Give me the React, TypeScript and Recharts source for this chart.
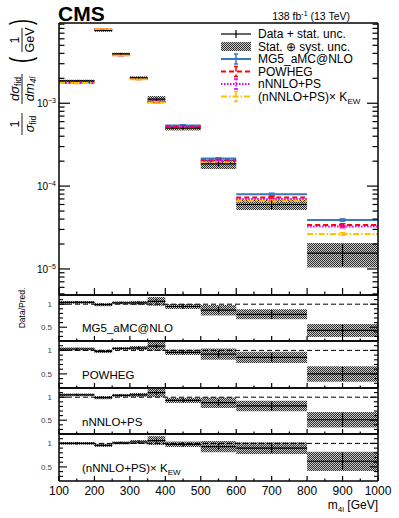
import React from 'react';
import {
  ComposedChart, Line, Scatter, ErrorBar, XAxis, YAxis, ReferenceArea, ReferenceLine,
} from 'recharts';

const FONT = '"Liberation Sans", Arial, Helvetica, sans-serif';

// m4l bins [GeV]
const binLo = [100, 200, 250, 300, 350, 400, 500, 600, 800];
const binHi = [200, 250, 300, 350, 400, 500, 600, 800, 1000];

// normalised cross sections [1/GeV]
const dataXs = [1.86e-3, 7.55e-3, 3.95e-3, 2.03e-3, 1.12e-3, 5.0e-4, 1.85e-4, 6.0e-5, 1.55e-5];
const statRel = [0.025, 0.02, 0.025, 0.03, 0.04, 0.05, 0.08, 0.12, 0.3];
const totRel = [0.03, 0.035, 0.03, 0.04, 0.09, 0.06, 0.13, 0.14, 0.33];

const mg5 = [1.78e-3, 7.7e-3, 3.85e-3, 2.0e-3, 1.05e-3, 5.4e-4, 2.15e-4, 8.0e-5, 3.9e-5];
const powheg = [1.77e-3, 7.75e-3, 3.83e-3, 1.97e-3, 1.04e-3, 5.25e-4, 2.05e-4, 7.3e-5, 3.4e-5];
const nnnlo = [1.76e-3, 7.8e-3, 3.8e-3, 1.96e-3, 1.03e-3, 5.15e-4, 2.0e-4, 7.0e-5, 3.25e-5];
const nnnloKew = [1.75e-3, 7.8e-3, 3.8e-3, 1.95e-3, 1.02e-3, 5.0e-4, 1.93e-4, 6.6e-5, 2.65e-5];
const predUnc = [0.015, 0.015, 0.015, 0.015, 0.02, 0.02, 0.025, 0.03, 0.035];

// Data / prediction
const ratioMg5 = [1.04, 0.99, 1.03, 1.03, 1.06, 0.95, 0.87, 0.78, 0.43];
const ratioPowheg = [1.03, 0.98, 1.04, 1.05, 1.09, 0.96, 0.92, 0.85, 0.5];
const ratioNnnlo = [1.05, 0.99, 1.04, 1.05, 1.1, 0.93, 0.88, 0.81, 0.51];
const ratioKew = [1.0, 0.96, 1.01, 1.03, 1.06, 0.98, 0.93, 0.9, 0.62];

const xTicks = [100, 150, 200, 250, 300, 350, 400, 450, 500, 550, 600, 650, 700, 750, 800, 850, 900, 950, 1000];
const ratioTicks = [0.3, 0.4, 0.5, 0.6, 0.7, 0.8, 0.9, 1.0, 1.1];
const Y_MIN = 4.85e-6;
const Y_MAX = 9.3e-3;
const mainYTicks: number[] = [];
[1e-6, 1e-5, 1e-4, 1e-3].forEach((d) => {
  [1, 2, 3, 4, 5, 6, 7, 8, 9].forEach((m) => {
    const v = m * d;
    if (v >= Y_MIN && v <= Y_MAX) mainYTicks.push(v);
  });
});

const series = [
  { name: 'MG5_aMC@NLO', vals: mg5, color: '#3a78c0', dash: undefined as string | undefined },
  { name: 'POWHEG', vals: powheg, color: '#ff0000', dash: '5 3' },
  { name: 'nNNLO+PS', vals: nnnlo, color: '#e000f0', dash: '1.5 1.5' },
  { name: 'KEW', vals: nnnloKew, color: '#ffbf00', dash: '6 2 1.5 2' },
];

const W = 399;
const PLOT_L = 59;
const PLOT_R = 20;

// turn bin values into separated horizontal segments
const segments = (vals: number[]) => {
  const out: { x: number; y: number | null }[] = [];
  vals.forEach((v, i) => {
    out.push({ x: binLo[i], y: v }, { x: binHi[i], y: v }, { x: binHi[i], y: null });
  });
  return out;
};
const centers = (vals: number[], rel: number[]) =>
  vals.map((v, i) => ({ x: (binLo[i] + binHi[i]) / 2, y: v, err: [v * rel[i], v * rel[i]] }));

const isMajorLog = (v: number) => Math.abs(Math.log10(v) - Math.round(Math.log10(v))) < 1e-6;

const xTick = (dir: 1 | -1, big: number, small: number, labels: boolean) => (p: any) => {
  const v = p.payload.value;
  const x = Number(p.x);
  const y = Number(p.y);
  const major = v % 100 === 0;
  const len = major ? big : small;
  return (
    <g>
      <line x1={x} x2={x} y1={y} y2={y + dir * len} stroke="#000" strokeWidth={1.2} />
      {labels && major && (
        <text x={x} y={y + 14} textAnchor="middle" fontSize={12} fontFamily={FONT} fill="#000">{v}</text>
      )}
    </g>
  );
};

const logYTick = (dir: 1 | -1, labels: boolean) => (p: any) => {
  const v = p.payload.value;
  const x = Number(p.x);
  const y = Number(p.y);
  const major = isMajorLog(v);
  const len = major ? 11 : 5.5;
  return (
    <g>
      <line x1={x} x2={x + dir * len} y1={y} y2={y} stroke="#000" strokeWidth={1.2} />
      {labels && major && (
        <text x={x - 3} y={y + 4} textAnchor="end" fontSize={10} fontFamily={FONT} fill="#000">
          <tspan>10</tspan>
          <tspan dy={-4} fontSize={7}>{'\u2212' + Math.abs(Math.round(Math.log10(v)))}</tspan>
        </text>
      )}
    </g>
  );
};

const ratioYTick = (dir: 1 | -1, labels: boolean) => (p: any) => {
  const v = p.payload.value;
  const x = Number(p.x);
  const y = Number(p.y);
  const major = Math.abs(v - 0.5) < 1e-6 || Math.abs(v - 1) < 1e-6;
  const len = major ? 8 : 4;
  return (
    <g>
      <line x1={x} x2={x + dir * len} y1={y} y2={y} stroke="#000" strokeWidth={1.1} />
      {labels && major && (
        <text x={x - 7} y={y + 3} textAnchor="end" fontSize={8} fontFamily={FONT} fill="#444">
          {v === 1 ? '1' : '0.5'}
        </text>
      )}
    </g>
  );
};

const noShape = () => <g />;
const frame = { stroke: '#000', strokeWidth: 1.5 };

function MainPanel() {
  return (
    <ComposedChart width={W} height={296} margin={{ top: 22, right: PLOT_R, bottom: 0, left: 0 }}>
      <XAxis type="number" dataKey="x" domain={[100, 1000]} allowDataOverflow ticks={xTicks} interval={0}
        height={1} tickSize={0} tickMargin={0} stroke="#000" tick={xTick(-1, 7, 3.5, false)} axisLine={frame} />
      <XAxis xAxisId="top" orientation="top" type="number" domain={[100, 1000]} allowDataOverflow ticks={xTicks}
        interval={0} height={1} tickSize={0} tickMargin={0} stroke="#000" tick={xTick(1, 7, 3.5, false)} axisLine={frame} />
      <YAxis type="number" scale="log" domain={[Y_MIN, Y_MAX]} allowDataOverflow ticks={mainYTicks} interval={0}
        width={PLOT_L} tickSize={0} tickMargin={0} stroke="#000" tick={logYTick(1, true)} axisLine={frame} />
      <YAxis yAxisId="right" orientation="right" type="number" scale="log" domain={[Y_MIN, Y_MAX]} allowDataOverflow
        ticks={mainYTicks} interval={0} width={1} tickSize={0} tickMargin={0} stroke="#000"
        tick={logYTick(-1, false)} axisLine={frame} />

      {dataXs.map((v, i) => (
        <ReferenceArea key={'box' + i} x1={binLo[i]} x2={binHi[i]} y1={v * (1 - totRel[i])} y2={v * (1 + totRel[i])}
          fill="url(#statsyst)" fillOpacity={1} stroke="none" />
      ))}

      {series.map((s) => (
        <Line key={s.name} data={segments(s.vals)} dataKey="y" stroke={s.color} strokeWidth={2}
          strokeDasharray={s.dash} dot={false} activeDot={false} isAnimationActive={false} connectNulls={false} />
      ))}
      {series.map((s) => (
        <Scatter key={s.name + 'err'} data={centers(s.vals, predUnc)} dataKey="y" shape={noShape} isAnimationActive={false}>
          <ErrorBar dataKey="err" direction="y" width={3} stroke={s.color} strokeWidth={1.3} isAnimationActive={false} />
        </Scatter>
      ))}

      <Line data={segments(dataXs)} dataKey="y" stroke="#000" strokeWidth={1.2} dot={false} activeDot={false}
        isAnimationActive={false} connectNulls={false} />
      <Scatter data={centers(dataXs, statRel)} dataKey="y" shape={noShape} isAnimationActive={false}>
        <ErrorBar dataKey="err" direction="y" width={0} stroke="#000" strokeWidth={1.2} isAnimationActive={false} />
      </Scatter>
    </ComposedChart>
  );
}

function RatioPanel({ ratio, height, bottom, labels }: { ratio: number[]; height: number; bottom: number; labels: boolean }) {
  return (
    <ComposedChart width={W} height={height + bottom + 2} margin={{ top: 0, right: PLOT_R, bottom, left: 0 }}>
      <XAxis type="number" dataKey="x" domain={[100, 1000]} allowDataOverflow ticks={xTicks} interval={0}
        height={1} tickSize={0} tickMargin={0} stroke="#000" tick={xTick(-1, 5, 2.5, labels)} axisLine={frame} />
      <XAxis xAxisId="top" orientation="top" type="number" domain={[100, 1000]} allowDataOverflow ticks={xTicks}
        interval={0} height={1} tickSize={0} tickMargin={0} stroke="#000" tick={xTick(1, 3, 1.5, false)} axisLine={frame} />
      <YAxis type="number" domain={[0.2, 1.2]} allowDataOverflow ticks={ratioTicks} interval={0}
        width={PLOT_L} tickSize={0} tickMargin={0} stroke="#000" tick={ratioYTick(1, true)} axisLine={frame} />
      <YAxis yAxisId="right" orientation="right" type="number" domain={[0.2, 1.2]} allowDataOverflow
        ticks={ratioTicks} interval={0} width={1} tickSize={0} tickMargin={0} stroke="#000"
        tick={ratioYTick(-1, false)} axisLine={frame} />

      <ReferenceLine y={1} stroke="#000" strokeWidth={1} strokeDasharray="5 3" />
      {ratio.map((r, i) => (
        <ReferenceArea key={'rbox' + i} x1={binLo[i]} x2={binHi[i]} y1={r * (1 - totRel[i])} y2={r * (1 + totRel[i])}
          fill="url(#statsyst)" fillOpacity={1} stroke="none" />
      ))}
      <Line data={segments(ratio)} dataKey="y" stroke="#000" strokeWidth={1.2} dot={false} activeDot={false}
        isAnimationActive={false} connectNulls={false} />
      <Scatter data={centers(ratio, statRel)} dataKey="y" shape={noShape} isAnimationActive={false}>
        <ErrorBar dataKey="err" direction="y" width={0} stroke="#000" strokeWidth={1.2} isAnimationActive={false} />
      </Scatter>
    </ComposedChart>
  );
}

const legendRows = [34, 46.5, 59, 71.5, 84, 96.5];

function Overlay() {
  const t = { fontFamily: FONT, fill: '#000' };
  const lx1 = 221;
  const lx2 = 251;
  const lc = 236;
  return (
    <svg width={W} height={518} style={{ position: 'absolute', left: 0, top: 0, pointerEvents: 'none' }}>
      <text x={58} y={21} fontSize={21} fontWeight="bold" {...t}>CMS</text>
      <text x={350} y={20} fontSize={10.5} textAnchor="end" {...t}>
        <tspan>138 fb</tspan><tspan dy={-4} fontSize={7}>-1</tspan><tspan dy={4}> (13 TeV)</tspan>
      </text>

      {/* legend */}
      <line x1={lx1} x2={lx2} y1={legendRows[0]} y2={legendRows[0]} stroke="#000" strokeWidth={1.2} />
      <line x1={lc} x2={lc} y1={legendRows[0] - 4} y2={legendRows[0] + 4} stroke="#000" strokeWidth={1.2} />
      <rect x={lx1} y={legendRows[1] - 4.5} width={lx2 - lx1} height={9} fill="url(#statsyst)" />
      {series.map((s, k) => {
        const y = legendRows[k + 2];
        return (
          <g key={s.name}>
            <line x1={lx1} x2={lx2} y1={y} y2={y} stroke={s.color} strokeWidth={2} strokeDasharray={s.dash} />
            <line x1={lc} x2={lc} y1={y - 5} y2={y + 5} stroke={s.color} strokeWidth={1.5} strokeDasharray={s.dash} />
            <line x1={lc - 2} x2={lc + 2} y1={y - 5} y2={y - 5} stroke={s.color} strokeWidth={1.5} />
            <line x1={lc - 2} x2={lc + 2} y1={y + 5} y2={y + 5} stroke={s.color} strokeWidth={1.5} />
          </g>
        );
      })}
      <text x={258} y={legendRows[0] + 4} fontSize={12} {...t}>Data + stat. unc.</text>
      <text x={258} y={legendRows[1] + 4} fontSize={12} {...t}>Stat. {'\u2295'} syst. unc.</text>
      <text x={258} y={legendRows[2] + 4} fontSize={12} {...t}>MG5_aMC@NLO</text>
      <text x={258} y={legendRows[3] + 4} fontSize={12} {...t}>POWHEG</text>
      <text x={258} y={legendRows[4] + 4} fontSize={12} {...t}>nNNLO+PS</text>
      <text x={258} y={legendRows[5] + 4} fontSize={12} {...t}>
        <tspan>(nNNLO+PS)× K</tspan><tspan dy={3} fontSize={8}>EW</tspan>
      </text>

      {/* y axis title */}
      <g transform="translate(22,136) rotate(-90)">
        <text x={12} y={-3} fontSize={12.5} textAnchor="middle" {...t}>1</text>
        <line x1={1} x2={23} y1={0} y2={0} stroke="#000" strokeWidth={0.9} />
        <text x={12} y={12} fontSize={12.5} textAnchor="middle" {...t}>
          <tspan fontStyle="italic">σ</tspan><tspan dy={2} fontSize={8.5}>fid</tspan>
        </text>
        <text x={47} y={-3} fontSize={13} textAnchor="middle" {...t}>
          <tspan fontStyle="italic">dσ</tspan><tspan dy={2} fontSize={8.5}>fid</tspan>
        </text>
        <line x1={32} x2={62} y1={0} y2={0} stroke="#000" strokeWidth={0.9} />
        <text x={47} y={12} fontSize={13} textAnchor="middle" {...t}>
          <tspan fontStyle="italic">dm</tspan><tspan dy={2} fontSize={8.5} fontStyle="italic">4l</tspan>
        </text>
        <text transform="translate(73,9) scale(0.6,1)" fontSize={30} {...t}>(</text>
        <text x={96} y={-3} fontSize={12.5} textAnchor="middle" {...t}>1</text>
        <line x1={84} x2={108} y1={0} y2={0} stroke="#000" strokeWidth={0.9} />
        <text x={96} y={12} fontSize={12.5} textAnchor="middle" {...t}>GeV</text>
        <text transform="translate(111,9) scale(0.6,1)" fontSize={30} {...t}>)</text>
      </g>

      <text transform="translate(25,308) rotate(-90)" fontSize={8.5} textAnchor="middle" {...t}>Data/Pred.</text>

      <text x={82} y={332} fontSize={11.5} {...t}>MG5_aMC@NLO</text>
      <text x={82} y={379} fontSize={11.5} {...t}>POWHEG</text>
      <text x={82} y={425.5} fontSize={11.5} {...t}>nNNLO+PS</text>
      <text x={82} y={471.5} fontSize={11.5} {...t}>
        <tspan>(nNNLO+PS)× K</tspan><tspan dy={3} fontSize={8}>EW</tspan>
      </text>

      <text x={378} y={509} fontSize={12} textAnchor="end" {...t}>
        <tspan>m</tspan><tspan dy={3} fontSize={8}>4l</tspan><tspan dy={-3}> [GeV]</tspan>
      </text>
    </svg>
  );
}

export default function App() {
  const panels = [
    { ratio: ratioMg5, top: 294, h: 46 },
    { ratio: ratioPowheg, top: 340, h: 47 },
    { ratio: ratioNnnlo, top: 387, h: 46 },
    { ratio: ratioKew, top: 433, h: 47 },
  ];
  return (
    <div style={{ position: 'absolute', left: 0, top: 0, width: W, height: 518, background: '#fff', overflow: 'hidden' }}>
      <svg width={0} height={0} style={{ position: 'absolute' }}>
        <defs>
          <pattern id="statsyst" width={2} height={2} patternUnits="userSpaceOnUse">
            <rect width={2} height={2} fill="#c8c8c8" />
            <rect width={1} height={1} fill="#303030" />
            <rect x={1} y={1} width={1} height={1} fill="#303030" />
          </pattern>
        </defs>
      </svg>
      <div style={{ position: 'absolute', left: 0, top: 0 }}>
        <MainPanel />
      </div>
      {panels.map((p, k) => (
        <div key={k} style={{ position: 'absolute', left: 0, top: p.top }}>
          <RatioPanel ratio={p.ratio} height={p.h} bottom={k === 3 ? 36 : 0} labels={k === 3} />
        </div>
      ))}
      <Overlay />
    </div>
  );
}
